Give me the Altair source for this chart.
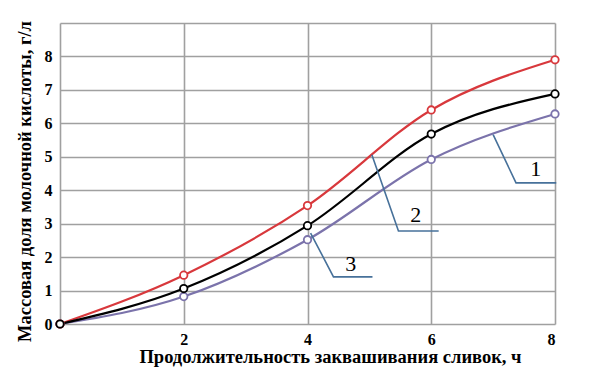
import altair as alt
import pandas as pd

hours = [0, 2, 4, 6, 8]
curve1 = [0, 0.82, 2.52, 4.92, 6.28]   # lower, purple
curve2 = [0, 1.46, 3.54, 6.40, 7.90]   # red
curve3 = [0, 1.06, 2.94, 5.68, 6.88]   # black
series_names = ["1", "2", "3"]
colors = ["#7b73ab", "#d8383c", "#000000"]

# leader lines for curve labels (data units)
leader_label = ["1", "1", "1", "2", "2", "2", "3", "3", "3"]
leader_x = [7.00, 7.37, 8.02, 5.04, 5.47, 6.12, 4.05, 4.42, 5.05]
leader_y = [5.66, 4.22, 4.22, 5.06, 2.78, 2.78, 2.72, 1.41, 1.41]
label_text = ["1", "2", "3"]
label_x = [7.69, 5.75, 4.70]
label_y = [4.62, 3.25, 1.80]

rows = []
for name, vals in zip(["c1", "c2", "c3"], [curve1, curve2, curve3]):
    for h, v in zip(hours, vals):
        rows.append({"series": name, "h": h, "v": v})
df = pd.DataFrame(rows)

lead_df = pd.DataFrame({"lab": leader_label, "x": leader_x, "y": leader_y,
                        "o": list(range(len(leader_x)))})
lab_df = pd.DataFrame({"t": label_text, "x": label_x, "y": label_y})

FONT = "Liberation Serif"

xscale = alt.Scale(domain=[0, 8], nice=False, zero=False)
yscale = alt.Scale(domain=[0, 9], nice=False)

xaxis = alt.Axis(values=[0, 2, 4, 6, 8], format="d",
                 labelExpr="datum.value == 0 ? '' : datum.label",
                 title="Продолжительность заквашивания сливок, ч",
                 grid=True, ticks=False, domain=False, labelPadding=7,
                 labelOverlap=False,
                 labelFont=FONT, labelFontSize=16, labelFontWeight="bold", labelColor="#000",
                 titleFont=FONT, titleFontSize=18.5, titleFontWeight="bold", titleColor="#000",
                 titleX=270, titleY=38, titleBaseline="alphabetic", titleAlign="center")
yaxis = alt.Axis(values=[0, 1, 2, 3, 4, 5, 6, 7, 8, 9], format="d",
                 labelExpr="datum.value == 9 ? '' : datum.label",
                 title="Массовая доля молочной кислоты, г/л",
                 grid=True, ticks=False, domain=False, labelPadding=8,
                 labelOverlap=False,
                 labelFont=FONT, labelFontSize=16, labelFontWeight="bold", labelColor="#000",
                 titleFont=FONT, titleFontSize=18.5, titleFontWeight="bold", titleColor="#000",
                 titleX=-36, titleY=158, titleAlign="center", titleBaseline="middle", titleAngle=-90)

color_scale = alt.Scale(domain=["c1", "c2", "c3"], range=colors)

lines = alt.Chart(df).mark_line(interpolate="monotone", strokeWidth=2.2).encode(
    x=alt.X("h:Q", scale=xscale, axis=xaxis),
    y=alt.Y("v:Q", scale=yscale, axis=yaxis),
    color=alt.Color("series:N", scale=color_scale, legend=None),
)
points = alt.Chart(df).mark_point(shape="circle", filled=True, fill="white", size=55,
                                  strokeWidth=1.8, opacity=1).encode(
    x=alt.X("h:Q", scale=xscale, axis=xaxis),
    y=alt.Y("v:Q", scale=yscale, axis=yaxis),
    stroke=alt.Color("series:N", scale=color_scale, legend=None),
)
leaders = alt.Chart(lead_df).mark_line(color="#47719a", strokeWidth=1.6).encode(
    x=alt.X("x:Q", scale=xscale, axis=xaxis),
    y=alt.Y("y:Q", scale=yscale, axis=yaxis),
    detail="lab:N",
    order="o:Q",
)
labels = alt.Chart(lab_df).mark_text(font=FONT, fontSize=22, color="#000").encode(
    x=alt.X("x:Q", scale=xscale, axis=xaxis),
    y=alt.Y("y:Q", scale=yscale, axis=yaxis),
    text="t:N",
)

chart = alt.layer(lines, leaders, points, labels).properties(
    width=495, height=301,
    autosize=alt.AutoSizeParams(type="none"),
    padding={"left": 52, "top": 15, "right": 24, "bottom": 58},
).configure_view(stroke=None).configure_axis(
    gridColor="#a0a0a0", gridWidth=1.6, gridOpacity=1
)

chart.save("out.html", embed_options={"renderer": "svg", "actions": False})
